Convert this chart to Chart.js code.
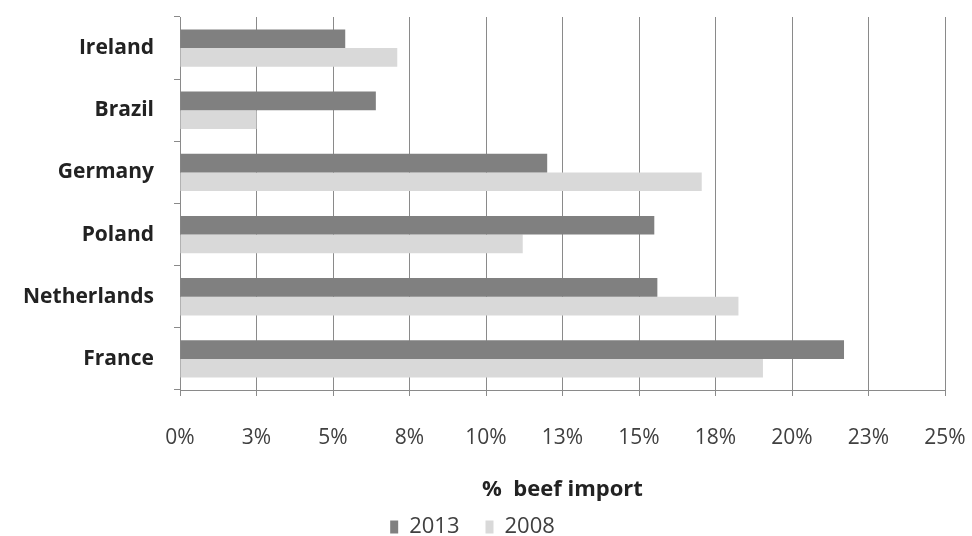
<!DOCTYPE html>
<html>
<head>
<meta charset="utf-8">
<script src="https://cdn.jsdelivr.net/npm/chart.js@4.4.1/dist/chart.umd.min.js"></script>
<style>
    html, body { margin: 0; padding: 0; background: #fff; }
    #wrap { width: 972px; height: 536px; }
</style>
</head>
<body>
<div id="wrap"><canvas id="beefChart"></canvas></div>
<script>
    // Données du graphique
    const countries = ['Ireland', 'Brazil', 'Germany', 'Poland', 'Netherlands', 'France'];
    const values2013 = [5.4, 6.4, 12.0, 15.5, 15.6, 21.7];
    const values2008 = [7.1, 2.5, 17.05, 11.2, 18.25, 19.05];
    const tickLabels = ['0%', '3%', '5%', '8%', '10%', '13%', '15%', '18%', '20%', '23%', '25%'];

    const gridGray = '#8a8a8a';

    function graph() {
        const ctx = document.getElementById('beefChart').getContext('2d');
        new Chart(ctx, {
            type: 'bar',
            data: {
                labels: countries,
                datasets: [{
                    label: '2013',
                    data: values2013,
                    backgroundColor: '#808080'
                }, {
                    label: '2008',
                    data: values2008,
                    backgroundColor: '#d9d9d9'
                }]
            },
            options: {
                indexAxis: 'y',
                responsive: true,
                maintainAspectRatio: false,
                animation: false,
                categoryPercentage: 0.6,
                barPercentage: 1,
                layout: {
                    padding: { top: 17, right: 27, bottom: -12, left: 0 }
                },
                plugins: {
                    legend: {
                        position: 'bottom',
                        labels: {
                            boxWidth: 8,
                            boxHeight: 13,
                            padding: 26,
                            color: '#404040',
                            font: { family: 'Open Sans', size: 22 }
                        }
                    },
                    tooltip: { enabled: false }
                },
                scales: {
                    x: {
                        min: 0,
                        max: 25,
                        afterFit: function(scale) {
                            scale.height = 100;
                            scale.paddingLeft = 0;
                            scale.paddingRight = 0;
                        },
                        ticks: {
                            stepSize: 2.5,
                            padding: 29,
                            color: '#404040',
                            font: { family: 'Open Sans', size: 21 },
                            callback: function(value, index) { return tickLabels[index]; }
                        },
                        grid: {
                            color: gridGray,
                            lineWidth: 1,
                            tickLength: 6
                        },
                        border: { color: gridGray },
                        title: {
                            display: true,
                            text: '%  beef import',
                            color: '#222',
                            padding: { top: 0, bottom: -13 },
                            font: { family: 'Open Sans', size: 22, weight: 'bold' }
                        }
                    },
                    y: {
                        afterFit: function(scale) {
                            scale.width = 180;
                            scale.paddingTop = 0;
                            scale.paddingBottom = 0;
                        },
                        ticks: {
                            padding: 20,
                            color: '#222',
                            font: { family: 'Open Sans', size: 21, weight: 'bold' }
                        },
                        grid: {
                            drawOnChartArea: false,
                            color: gridGray,
                            tickLength: 6
                        },
                        border: { color: gridGray }
                    }
                }
            }
        });
    }

    document.addEventListener('DOMContentLoaded', function() {
        graph();
    });
</script>
</body>
</html>
